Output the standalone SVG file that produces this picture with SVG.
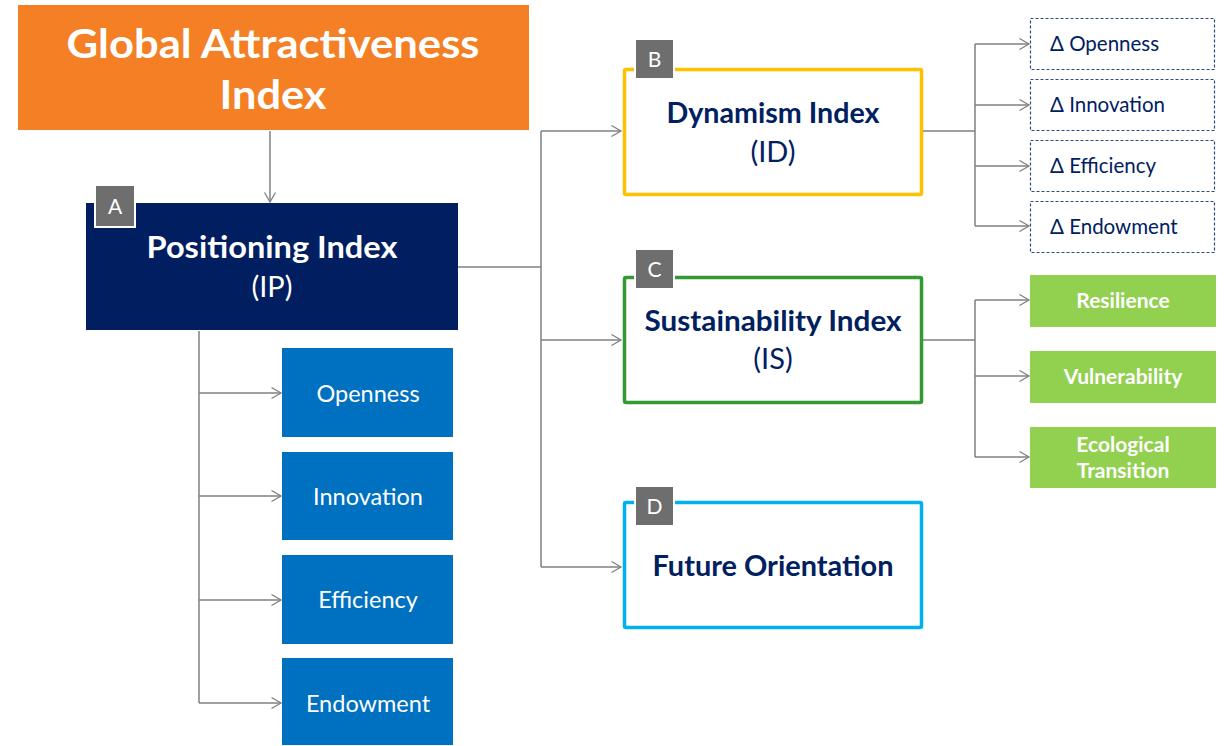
<svg xmlns="http://www.w3.org/2000/svg" width="1227" height="746" viewBox="0 0 1227 746">
  <defs>
    <marker id="arrow" markerUnits="userSpaceOnUse" markerWidth="14" markerHeight="14" refX="10" refY="6" orient="auto" overflow="visible">
      <path d="M0.5,0.5 L10,6 L0.5,11.5" fill="none" stroke="#808080" stroke-width="1.3"/>
    </marker>
    <style>
      .txt { font-family: Lato, "Open Sans", "Liberation Sans", sans-serif; text-anchor: middle; }
      .wire { fill: none; stroke: #808080; stroke-width: 1.5; }
      .arr { marker-end: url(#arrow); }
      .badge rect { fill: #6E6E6E; stroke: #ffffff; stroke-width: 2; }
      .badge text { fill: #ffffff; font-size: 21px; }
      .title { fill: #002060; font-weight: 700; font-size: 28px; }
      .sub { fill: #002060; font-weight: 400; font-size: 29px; }
      .pillar { fill: #0070C0; }
      .pillar-t { fill: #ffffff; font-size: 23.5px; }
      .delta rect { fill: #ffffff; stroke: #2F4A80; stroke-width: 1.2; stroke-dasharray: 3 2; }
      .delta text { fill: #002060; font-size: 20.5px; text-anchor: start; }
      .green rect { fill: #92D050; }
      .green text { fill: #ffffff; font-weight: 700; font-size: 21px; }
    </style>
  </defs>

  <!-- connectors -->
  <g id="connectors">
    <path class="wire arr" d="M270,131 V202"/>
    <path class="wire" d="M458,267 H541 M541,131 V567"/>
    <path class="wire arr" d="M541,131 H621"/>
    <path class="wire arr" d="M541,340 H621"/>
    <path class="wire arr" d="M541,567 H621"/>
    <path class="wire" d="M199,331 V703"/>
    <path class="wire arr" d="M199,393 H281"/>
    <path class="wire arr" d="M199,496 H281"/>
    <path class="wire arr" d="M199,600 H281"/>
    <path class="wire arr" d="M199,703 H281"/>
    <path class="wire" d="M923,131 H975 M975,44 V226"/>
    <path class="wire arr" d="M975,44 H1029"/>
    <path class="wire arr" d="M975,105 H1029"/>
    <path class="wire arr" d="M975,166 H1029"/>
    <path class="wire arr" d="M975,226 H1029"/>
    <path class="wire" d="M923,340 H975 M975,300 V457"/>
    <path class="wire arr" d="M975,300 H1029"/>
    <path class="wire arr" d="M975,376 H1029"/>
    <path class="wire arr" d="M975,457 H1029"/>
  </g>

  <!-- root -->
  <g id="global-index">
    <rect x="18" y="5" width="511" height="125" fill="#F47F24"/>
    <text class="txt" x="273" y="58" fill="#ffffff" font-weight="700" font-size="41" textLength="413" lengthAdjust="spacingAndGlyphs">Global Attractiveness</text>
    <text class="txt" x="273" y="109" fill="#ffffff" font-weight="700" font-size="41" textLength="107" lengthAdjust="spacingAndGlyphs">Index</text>
  </g>

  <!-- A -->
  <g id="positioning-index">
    <rect x="86" y="203" width="372" height="127" fill="#001E60"/>
    <text class="txt" x="272" y="258" fill="#ffffff" font-weight="700" font-size="30" textLength="251" lengthAdjust="spacingAndGlyphs">Positioning Index</text>
    <text class="txt" x="272" y="297" fill="#ffffff" font-size="29">(IP)</text>
    <g class="badge"><rect x="95" y="185" width="40" height="42"/><text class="txt" x="115" y="214">A</text></g>
  </g>

  <g id="ip-openness"><rect class="pillar" x="282" y="348" width="171" height="89"/><text class="txt pillar-t" x="368" y="402">Openness</text></g>
  <g id="ip-innovation"><rect class="pillar" x="282" y="452" width="171" height="88"/><text class="txt pillar-t" x="368" y="505">Innovation</text></g>
  <g id="ip-efficiency"><rect class="pillar" x="282" y="555" width="171" height="89"/><text class="txt pillar-t" x="368" y="608">Efficiency</text></g>
  <g id="ip-endowment"><rect class="pillar" x="282" y="658" width="171" height="87"/><text class="txt pillar-t" x="368" y="712">Endowment</text></g>

  <!-- B -->
  <g id="dynamism-index">
    <rect x="624.5" y="69.5" width="297" height="125" fill="#ffffff" stroke="#FFC000" stroke-width="3.5" rx="1.5"/>
    <text class="txt title" x="773" y="123" textLength="213" lengthAdjust="spacingAndGlyphs">Dynamism Index</text>
    <text class="txt sub" x="773" y="162">(ID)</text>
    <g class="badge"><rect x="635" y="39" width="39" height="40"/><text class="txt" x="654.5" y="67">B</text></g>
  </g>

  <!-- C -->
  <g id="sustainability-index">
    <rect x="624.5" y="277.5" width="297" height="125" fill="#ffffff" stroke="#339933" stroke-width="3.5" rx="1.5"/>
    <text class="txt title" x="773" y="331" textLength="257" lengthAdjust="spacingAndGlyphs">Sustainability Index</text>
    <text class="txt sub" x="773" y="369">(IS)</text>
    <g class="badge"><rect x="635" y="249" width="39" height="40"/><text class="txt" x="654.5" y="277">C</text></g>
  </g>

  <!-- D -->
  <g id="future-orientation">
    <rect x="624.5" y="502.5" width="297" height="125" fill="#ffffff" stroke="#00B0F0" stroke-width="3.5" rx="1.5"/>
    <text class="txt title" x="773" y="576" textLength="241" lengthAdjust="spacingAndGlyphs">Future Orientation</text>
    <g class="badge"><rect x="635" y="486" width="39" height="40"/><text class="txt" x="654.5" y="514">D</text></g>
  </g>

  <g id="d-openness" class="delta"><rect x="1030.5" y="18.5" width="184" height="51"/><text class="txt" x="1050" y="51">Δ Openness</text></g>
  <g id="d-innovation" class="delta"><rect x="1030.5" y="79.5" width="184" height="51"/><text class="txt" x="1050" y="112">Δ Innovation</text></g>
  <g id="d-efficiency" class="delta"><rect x="1030.5" y="140.5" width="184" height="51"/><text class="txt" x="1050" y="173">Δ Efficiency</text></g>
  <g id="d-endowment" class="delta"><rect x="1030.5" y="201.5" width="184" height="51"/><text class="txt" x="1050" y="234">Δ Endowment</text></g>

  <g id="resilience" class="green"><rect x="1030" y="275" width="186" height="52"/><text class="txt" x="1123" y="308">Resilience</text></g>
  <g id="vulnerability" class="green"><rect x="1030" y="351" width="186" height="52"/><text class="txt" x="1123" y="384">Vulnerability</text></g>
  <g id="ecological-transition" class="green"><rect x="1030" y="427" width="186" height="61"/><text class="txt" x="1123" y="452">Ecological</text><text class="txt" x="1123" y="478">Transition</text></g>
</svg>
